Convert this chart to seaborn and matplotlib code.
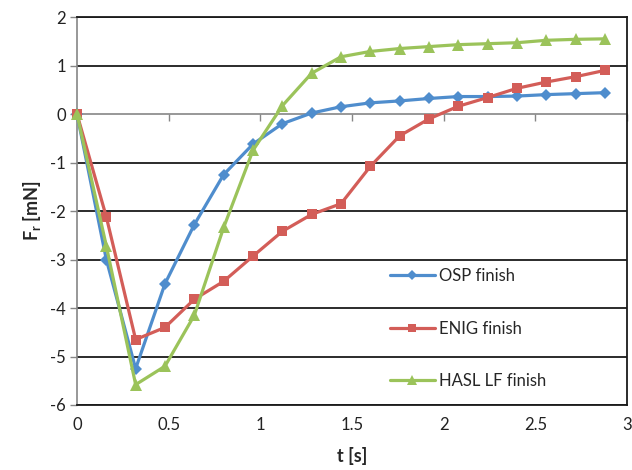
import matplotlib
matplotlib.use("Agg")
import matplotlib.pyplot as plt
import seaborn as sns
import pandas as pd

# ---- data ----
t = [0.0, 0.16, 0.32, 0.48, 0.64, 0.80, 0.96, 1.12, 1.28, 1.44,
     1.60, 1.76, 1.92, 2.08, 2.24, 2.40, 2.56, 2.72, 2.88]
osp = [0.0, -3.0, -5.25, -3.5, -2.28, -1.25, -0.62, -0.2, 0.02, 0.15,
       0.23, 0.27, 0.32, 0.36, 0.36, 0.37, 0.40, 0.42, 0.44]
enig = [0.0, -2.12, -4.65, -4.4, -3.82, -3.45, -2.93, -2.42, -2.07, -1.85,
        -1.08, -0.45, -0.1, 0.16, 0.34, 0.53, 0.66, 0.77, 0.9]
hasl = [0.0, -2.72, -5.58, -5.2, -4.15, -2.34, -0.75, 0.17, 0.84, 1.18,
        1.29, 1.35, 1.39, 1.43, 1.45, 1.47, 1.52, 1.54, 1.55]
series_names = ["OSP finish", "ENIG finish", "HASL LF finish"]
colors = ["#4F8DCD", "#D35D58", "#9BC35A"]
markers = ["D", "s", "^"]
msizes = [6.0, 7.5, 9.0]
xticks = [0, 0.5, 1, 1.5, 2, 2.5, 3]
xticklabels = ["0", "0.5", "1", "1.5", "2", "2.5", "3"]
yticks = [-6, -5, -4, -3, -2, -1, 0, 1, 2]
yticklabels = ["-6", "-5", "-4", "-3", "-2", "-1", "0", "1", "2"]

sns.set_theme(style="white")
plt.rcParams["font.family"] = ["Lato", "DejaVu Sans"]
plt.rcParams["axes.unicode_minus"] = False
plt.rcParams["mathtext.fontset"] = "custom"
plt.rcParams["mathtext.rm"] = "Lato"
plt.rcParams["mathtext.bf"] = "Lato:bold"

frames = []
for name, vals in zip(series_names, [osp, enig, hasl]):
    frames.append(pd.DataFrame({"t": t, "F": vals, "series": name}))
df = pd.concat(frames, ignore_index=True)

fig = plt.figure(figsize=(6.32, 4.70), dpi=100)
ax = fig.add_axes([0.1218, 0.1383, 0.8703, 0.8255])

for name, c, m, ms in zip(series_names, colors, markers, msizes):
    sub = df[df["series"] == name]
    sns.lineplot(data=sub, x="t", y="F", ax=ax, color=c, marker=m,
                 markersize=ms, markeredgewidth=0, linewidth=2.3,
                 label=name, clip_on=False, zorder=3)

ax.set_xlim(0, 3)
ax.set_ylim(-6, 2)
ax.set_xticks(xticks)
ax.set_xticklabels(xticklabels, fontsize=12, color="#222222")
ax.set_yticks(yticks)
ax.set_yticklabels(yticklabels, fontsize=12, color="#222222")

# grid lines (black) except at zero, where the grey axis line sits
ax.yaxis.grid(True, color="#1a1a1a", linewidth=1.3, zorder=0)
ax.xaxis.grid(False)
ax.set_axisbelow(True)
for val, gl in zip(yticks, ax.get_ygridlines()):
    if val == 0:
        gl.set_visible(False)

ax.tick_params(axis="x", length=0, pad=9)
ax.tick_params(axis="y", direction="out", length=5, width=1.0,
               color="#868686", pad=3, left=True)

for side in ["top", "right", "bottom"]:
    ax.spines[side].set_color("#1a1a1a")
    ax.spines[side].set_linewidth(1.3)
ax.spines["left"].set_color("#868686")
ax.spines["left"].set_linewidth(1.2)

# grey horizontal axis line at F = 0 with downward tick marks
secax = ax.secondary_xaxis(0.75)
secax.set_alignment("bottom")
secax.set_xticks(xticks)
secax.tick_params(axis="x", direction="out", length=5, width=1.0,
                  color="#868686", labelbottom=False, labeltop=False)
secax.spines["bottom"].set_color("#868686")
secax.spines["bottom"].set_linewidth(1.2)

ax.set_xlabel("t [s]", fontsize=13, fontweight="bold", labelpad=10)
ax.set_ylabel(r"F$_{\mathbf{r}}$ [mN]", fontsize=13, fontweight="bold",
              labelpad=5)

leg = ax.legend(loc="center left", bbox_to_anchor=(0.569, 0.197),
                frameon=False, fontsize=12, handlelength=2.7,
                handletextpad=0.25, labelspacing=2.2, borderpad=0,
                borderaxespad=0, numpoints=1, markerscale=0.8)

fig.savefig("out.png", dpi=100)
